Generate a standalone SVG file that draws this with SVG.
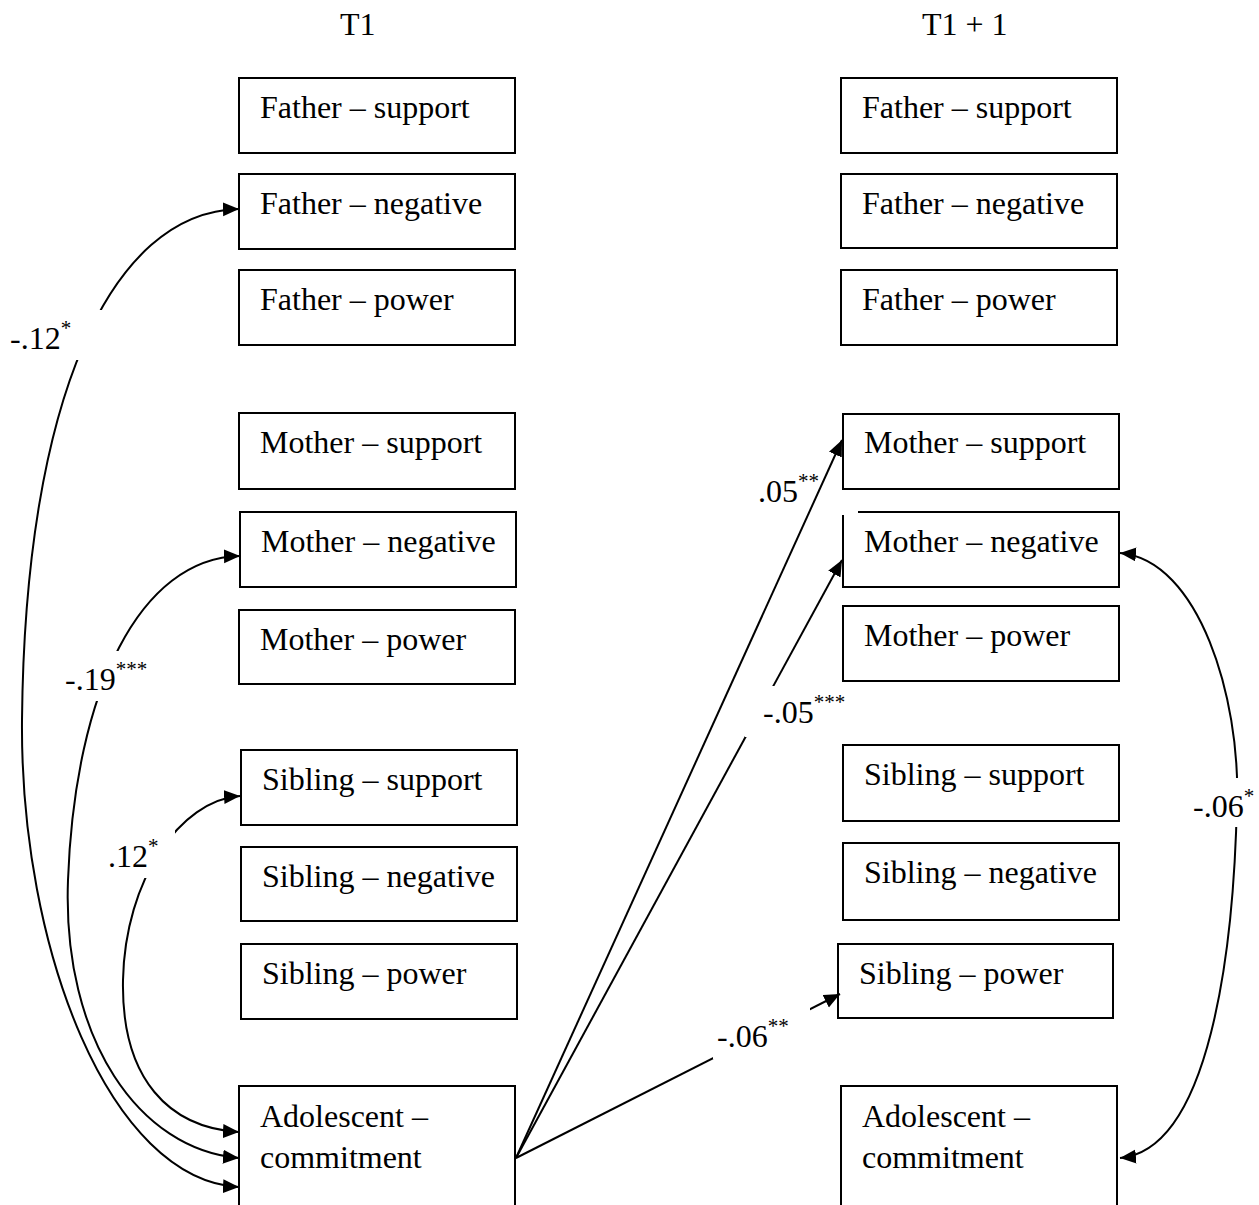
<svg xmlns="http://www.w3.org/2000/svg" width="1259" height="1205" viewBox="0 0 1259 1205">
<style>
.box{fill:none;stroke:#000;stroke-width:2}
.t{font-family:"Liberation Serif","Times New Roman",serif;font-size:32px;fill:#000}
.sup{font-size:21px}
.c{fill:none;stroke:#000;stroke-width:2}
.mask{fill:#fff;stroke:none}
</style>
<defs>
<marker id="ah" markerUnits="userSpaceOnUse" markerWidth="17" markerHeight="15" refX="16" refY="7" orient="auto-start-reverse" viewBox="0 0 17 15">
<path d="M0,0 L16,7 L0,14 z" fill="#000"/>
</marker>
</defs>
<rect width="1259" height="1205" fill="#fff"/>

<g id="headers">
<text class="t" x="340" y="35">T1</text>
<text class="t" x="922" y="35">T1 + 1</text>
</g>

<g id="connectors">
<path class="c" d="M239,1187 C110,1180 20,950 22,720 C25,400 110,212 239,209" marker-start="url(#ah)" marker-end="url(#ah)"/>
<path class="c" d="M239,1158 C140,1150 62,1040 68,880 C75,690 140,558 240,556" marker-start="url(#ah)" marker-end="url(#ah)"/>
<path class="c" d="M239,1132 C170,1128 121,1080 123,980 C125,880 180,800 240,796" marker-start="url(#ah)" marker-end="url(#ah)"/>
<line class="c" x1="516" y1="1158" x2="842" y2="440" marker-end="url(#ah)"/>
<line class="c" x1="516" y1="1158" x2="842" y2="560" marker-end="url(#ah)"/>
<line class="c" x1="516" y1="1158" x2="840" y2="994" marker-end="url(#ah)"/>
<path class="c" d="M1120,553 C1200,560 1240,700 1237,800 C1234,950 1210,1150 1120,1158" marker-start="url(#ah)" marker-end="url(#ah)"/>
<rect class="mask" x="6" y="310" width="98" height="50"/>
<rect class="mask" x="60" y="651" width="90" height="50"/>
<rect class="mask" x="100" y="828" width="75" height="50"/>
<rect class="mask" x="745" y="686" width="103" height="51"/>
<rect class="mask" x="713" y="1008" width="97" height="51"/>
<rect class="mask" x="1190" y="778" width="66" height="49"/>
<text class="t" x="10" y="349">-.12<tspan class="sup" dy="-14">*</tspan></text>
<text class="t" x="65" y="690">-.19<tspan class="sup" dy="-14">***</tspan></text>
<text class="t" x="108" y="867">.12<tspan class="sup" dy="-14">*</tspan></text>
<text class="t" x="758" y="502">.05<tspan class="sup" dy="-14">**</tspan></text>
<text class="t" x="763" y="723">-.05<tspan class="sup" dy="-14">***</tspan></text>
<text class="t" x="717" y="1047">-.06<tspan class="sup" dy="-14">**</tspan></text>
<text class="t" x="1193" y="817">-.06<tspan class="sup" dy="-14">*</tspan></text>
</g>

<g id="L_father_support"><rect class="box" x="239" y="78" width="276" height="75"/><text class="t" x="260" y="118">Father – support</text></g>
<g id="L_father_negative"><rect class="box" x="239" y="174" width="276" height="75"/><text class="t" x="260" y="214">Father – negative</text></g>
<g id="L_father_power"><rect class="box" x="239" y="270" width="276" height="75"/><text class="t" x="260" y="310">Father – power</text></g>
<g id="L_mother_support"><rect class="box" x="239" y="413" width="276" height="76"/><text class="t" x="260" y="453">Mother – support</text></g>
<g id="L_mother_negative"><rect class="box" x="240" y="512" width="276" height="75"/><text class="t" x="261" y="552">Mother – negative</text></g>
<g id="L_mother_power"><rect class="box" x="239" y="610" width="276" height="74"/><text class="t" x="260" y="650">Mother – power</text></g>
<g id="L_sibling_support"><rect class="box" x="241" y="750" width="276" height="75"/><text class="t" x="262" y="790">Sibling – support</text></g>
<g id="L_sibling_negative"><rect class="box" x="241" y="847" width="276" height="74"/><text class="t" x="262" y="887">Sibling – negative</text></g>
<g id="L_sibling_power"><rect class="box" x="241" y="944" width="276" height="75"/><text class="t" x="262" y="984">Sibling – power</text></g>
<g id="L_adolescent"><rect class="box" x="239" y="1086" width="276" height="130"/><text class="t" x="260" y="1127">Adolescent –</text><text class="t" x="260" y="1168">commitment</text></g>

<g id="R_father_support"><rect class="box" x="841" y="78" width="276" height="75"/><text class="t" x="862" y="118">Father – support</text></g>
<g id="R_father_negative"><rect class="box" x="841" y="174" width="276" height="74"/><text class="t" x="862" y="214">Father – negative</text></g>
<g id="R_father_power"><rect class="box" x="841" y="270" width="276" height="75"/><text class="t" x="862" y="310">Father – power</text></g>
<g id="R_mother_support"><rect class="box" x="843" y="414" width="276" height="75"/><text class="t" x="864" y="453">Mother – support</text></g>
<g id="R_mother_negative"><path class="box" d="M843,515 L843,587 L1119,587 L1119,512 L858,512"/><text class="t" x="864" y="552">Mother – negative</text></g>
<g id="R_mother_power"><rect class="box" x="843" y="606" width="276" height="75"/><text class="t" x="864" y="646">Mother – power</text></g>
<g id="R_sibling_support"><rect class="box" x="843" y="745" width="276" height="76"/><text class="t" x="864" y="785">Sibling – support</text></g>
<g id="R_sibling_negative"><rect class="box" x="843" y="843" width="276" height="77"/><text class="t" x="864" y="883">Sibling – negative</text></g>
<g id="R_sibling_power"><rect class="box" x="838" y="944" width="275" height="74"/><text class="t" x="859" y="984">Sibling – power</text></g>
<g id="R_adolescent"><rect class="box" x="841" y="1086" width="276" height="130"/><text class="t" x="862" y="1127">Adolescent –</text><text class="t" x="862" y="1168">commitment</text></g>
</svg>
